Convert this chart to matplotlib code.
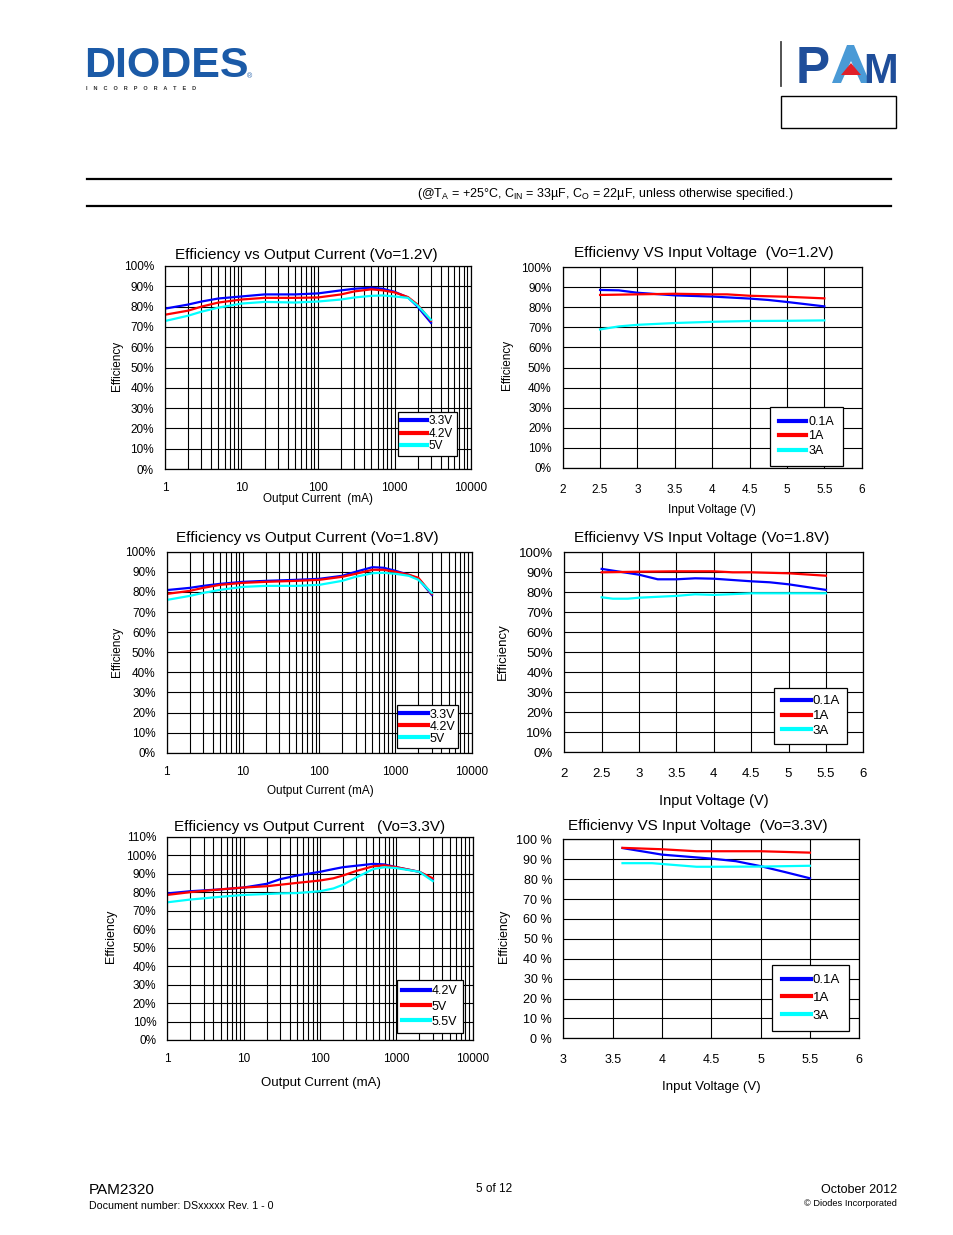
import matplotlib
matplotlib.use("Agg")
import matplotlib.pyplot as plt
from matplotlib.ticker import LogLocator, NullFormatter
from matplotlib.patches import Polygon, Rectangle
from matplotlib.lines import Line2D

plt.rcParams['font.family'] = ['Liberation Sans', 'DejaVu Sans']
plt.rcParams['mathtext.fontset'] = 'custom'
plt.rcParams['mathtext.rm'] = 'Liberation Sans'

W, H = 954, 1235

# ---- data (efficiency in %) ----
iout = [1, 2, 3, 5, 10, 20, 50, 100, 200, 300, 500, 700, 1000, 1500, 2000, 3000]
eff12_v33 = [79, 81, 82.5, 84, 85, 86, 86, 86.5, 88, 88.8, 89.3, 88.8, 87.3, 84.5, 80, 72]
eff12_v42 = [76, 78, 80, 82, 83.5, 84.3, 84.3, 84.5, 86, 87.5, 88.5, 88, 87, 84.7, 81, 73]
eff12_v50 = [72.9, 75.5, 77.5, 79.5, 81.5, 82.3, 82, 82.5, 83.5, 84.5, 85.3, 85.5, 85, 84.3, 80.5, 73.5]

eff18_v33 = [80.9, 82, 83, 84, 85, 85.5, 86, 86.5, 88, 90, 92.3, 92, 90.5, 88.5, 86.5, 78.5]
eff18_v42 = [79, 80.5, 82, 83.5, 84.5, 85, 85.5, 86, 87.5, 89, 91, 91, 90, 88.5, 87, 79]
eff18_v50 = [76, 78, 79.5, 81, 82.5, 83, 83, 83.5, 85.5, 87.5, 89.3, 89.5, 89, 88, 86, 79.5]

iout33 = [1, 2, 5, 10, 20, 30, 50, 100, 150, 200, 300, 500, 700, 1000, 2000, 3000]
eff33_v42 = [79.3, 80.5, 81.5, 82.5, 84.5, 87, 89, 91, 92.5, 93.5, 94.3, 95.3, 95, 93.5, 91, 87]
eff33_v50 = [78.5, 80, 81.5, 82.5, 83.2, 84, 85, 86.3, 87.5, 89, 91.5, 94, 94.5, 93.5, 91, 87.5]
eff33_v55 = [74.5, 76, 77.5, 78.5, 79, 79.3, 79.5, 80.5, 82, 84, 88, 92.5, 93.5, 93, 91, 86]

vin12_a01 = [2.5, 2.75, 3.0, 3.5, 4.0, 4.5, 4.75, 5.0, 5.5]
eff12_a01 = [88.7, 88.5, 87.3, 86, 85.4, 84.4, 83.7, 82.7, 80.5]
vin12_a1 = [2.5, 3.0, 3.5, 4.0, 4.2, 4.5, 5.0, 5.5]
eff12_a1 = [86.2, 86.5, 86.8, 86.5, 86.5, 85.8, 85.3, 84.5]
vin12_a3 = [2.5, 2.75, 3.0, 3.5, 4.0, 4.5, 5.0, 5.5]
eff12_a3 = [69, 70.5, 71.3, 72.2, 72.8, 73.2, 73.3, 73.5]

vin18_a01 = [2.5, 3.0, 3.25, 3.5, 3.75, 4.0, 4.5, 4.75, 5.0, 5.5]
eff18_a01 = [91.7, 88.8, 86.5, 86.5, 87, 86.8, 85.5, 85, 84, 81.2]
vin18_a1 = [2.5, 3.0, 3.5, 4.0, 4.25, 4.5, 5.0, 5.5]
eff18_a1 = [90, 90.3, 90.5, 90.5, 90, 90, 89.5, 88.3]
vin18_a3 = [2.5, 2.65, 2.85, 3.0, 3.5, 3.75, 4.0, 4.2, 4.5, 5.0, 5.5]
eff18_a3 = [77.5, 76.8, 76.8, 77.3, 78.2, 79, 78.7, 79, 79.5, 79.5, 79.5]

vin33_a01 = [3.6, 4.0, 4.5, 4.75, 5.0, 5.25, 5.5]
eff33_a01 = [95.6, 92.3, 90.3, 89, 86.5, 83.5, 80.4]
vin33_a1 = [3.6, 4.0, 4.35, 4.5, 5.0, 5.5]
eff33_a1 = [95.7, 95, 94, 94, 94, 93.3]
vin33_a3 = [3.6, 3.9, 4.35, 4.5, 5.0, 5.25, 5.5]
eff33_a3 = [88, 88, 86.2, 86.2, 86.3, 86.5, 86.7]

colors = ['#0000ff', '#ff0000', '#00ffff']

fig = plt.figure(figsize=(W / 100, H / 100), dpi=100)


def fx(x):
    return x / W


def fy(y):
    return 1 - y / H


def add_box(left, top, right, bottom):
    return fig.add_axes([fx(left), fy(bottom), (right - left) / W, (bottom - top) / H])


def common(ax, ymax, tick_fs, ypad, xpad, pct='%'):
    ax.set_ylim(0, ymax)
    ax.set_yticks(range(0, ymax + 1, 10))
    ax.set_yticklabels([f'{v}{pct}' for v in range(0, ymax + 1, 10)], fontsize=tick_fs)
    ax.tick_params(which='both', length=0)
    ax.tick_params(axis='y', pad=ypad)
    ax.tick_params(axis='x', pad=xpad, labelsize=tick_fs)
    ax.grid(which='both', color='black', lw=0.8)
    ax.set_axisbelow(True)
    for s in ax.spines.values():
        s.set_linewidth(0.9)


def legend(ax, labels, anchor, fs, spacing, bpad):
    leg = ax.legend(labels, loc='lower right', bbox_to_anchor=anchor, borderaxespad=0,
                    fontsize=fs, frameon=True, fancybox=False, edgecolor='black',
                    framealpha=1, handlelength=2.2, handletextpad=0.15,
                    labelspacing=spacing, borderpad=bpad)
    leg.get_frame().set_linewidth(0.9)
    for ln in leg.get_lines():
        ln.set_linewidth(3)


def log_chart(box, x, ys, labels, ymax, anchor, tick_fs=8.5, xpad=9.5,
              leg_fs=8.5, spacing=0.12, bpad=0.35):
    ax = add_box(*box)
    ax.set_xscale('log')
    ax.set_xlim(1, 10000)
    ax.xaxis.set_major_locator(LogLocator(base=10, numticks=10))
    ax.xaxis.set_minor_locator(LogLocator(base=10, subs=range(2, 10), numticks=100))
    ax.xaxis.set_minor_formatter(NullFormatter())
    ax.set_xticks([1, 10, 100, 1000, 10000])
    ax.set_xticklabels(['1', '10', '100', '1000', '10000'])
    common(ax, ymax, tick_fs, 8, xpad)
    for y, c in zip(ys, colors):
        ax.plot(x, y, color=c, lw=1.6)
    legend(ax, labels, anchor, leg_fs, spacing, bpad)
    return ax


def vin_chart(box, xs, ys, labels, xmin, anchor, tick_fs=8.5, xpad=11.5,
              leg_fs=8.5, spacing=0.4, bpad=0.7, pct='%'):
    ax = add_box(*box)
    ax.set_xlim(xmin, 6)
    ticks = [xmin + 0.5 * i for i in range(int((6 - xmin) / 0.5) + 1)]
    ax.set_xticks(ticks)
    ax.set_xticklabels([f'{t:g}' for t in ticks])
    common(ax, 100, tick_fs, 8, xpad, pct)
    for x, y, c in zip(xs, ys, colors):
        ax.plot(x, y, color=c, lw=1.6)
    legend(ax, labels, anchor, leg_fs, spacing, bpad)
    return ax


def ptext(x, y, s, **kw):
    kw.setdefault('ha', 'center')
    kw.setdefault('va', 'center')
    fig.text(fx(x), fy(y), s, **kw)


lab_iout = ['3.3V', '4.2V', '5V']
lab_amp = ['0.1A', '1A', '3A']

# ---- row 1 ----
log_chart((165, 266, 471, 469), iout, [eff12_v33, eff12_v42, eff12_v50], lab_iout, 100,
          (0.953, 0.064), spacing=0.05, bpad=0.3)
ptext(306.7, 254.5, 'Efficiency vs Output Current (Vo=1.2V)', fontsize=11)
ptext(318.3, 499.5, 'Output Current  (mA)', fontsize=8.5)
ptext(117, 366, 'Efficiency', fontsize=8.5, rotation=90)

vin_chart((562.7, 267.3, 861.7, 467.7), [vin12_a01, vin12_a1, vin12_a3],
          [eff12_a01, eff12_a1, eff12_a3], lab_amp, 2, (0.936, 0.01), leg_fs=9,
          spacing=0.2, bpad=0.7)
ptext(704, 253, 'Efficienvy VS Input Voltage  (Vo=1.2V)', fontsize=11)
ptext(711.7, 510.5, 'Input Voltage (V)', fontsize=8.5)
ptext(506.7, 365, 'Efficiency', fontsize=8.5, rotation=90)

# ---- row 2 ----
log_chart((166.7, 551.7, 471.7, 752.7), iout, [eff18_v33, eff18_v42, eff18_v50], lab_iout, 100,
          (0.956, 0.025), leg_fs=9, spacing=0.0, bpad=0.25)
ptext(307.5, 538.3, 'Efficiency vs Output Current (Vo=1.8V)', fontsize=11)
ptext(320, 790.7, 'Output Current (mA)', fontsize=8.5)
ptext(117, 651.7, 'Efficiency', fontsize=8.5, rotation=90)

vin_chart((564.3, 552.3, 863.3, 752.3), [vin18_a01, vin18_a1, vin18_a3],
          [eff18_a01, eff18_a1, eff18_a3], lab_amp, 2, (0.946, 0.04), tick_fs=9.5, leg_fs=9.5,
          spacing=0.2, bpad=0.55)
ptext(701.7, 538.3, 'Efficienvy VS Input Voltage (Vo=1.8V)', fontsize=11)
ptext(713.8, 801, 'Input Voltage (V)', fontsize=10.5)
ptext(503, 651.7, 'Efficiency', fontsize=9.5, rotation=90)

# ---- row 3 ----
log_chart((167.3, 836.7, 472.7, 1040), iout33, [eff33_v42, eff33_v50, eff33_v55],
          ['4.2V', '5V', '5.5V'], 110, (0.967, 0.036), leg_fs=9, spacing=0.25, bpad=0.4)
ptext(310, 826.7, 'Efficiency vs Output Current   (Vo=3.3V)', fontsize=11)
ptext(321.3, 1082.7, 'Output Current (mA)', fontsize=9.5)
ptext(110.7, 936.7, 'Efficiency', fontsize=9, rotation=90)

vin_chart((563.3, 839.3, 859.3, 1038.3), [vin33_a01, vin33_a1, vin33_a3],
          [eff33_a01, eff33_a1, eff33_a3], lab_amp, 3, (0.966, 0.038), tick_fs=9,
          leg_fs=9.5, spacing=0.4, bpad=0.7, pct=' %')
ptext(698.3, 826, 'Efficienvy VS Input Voltage  (Vo=3.3V)', fontsize=11)
ptext(711.7, 1086.7, 'Input Voltage (V)', fontsize=9.5)
ptext(504.3, 936.7, 'Efficiency', fontsize=9, rotation=90)

# ---- header ----
ptext(84, 77, 'DIODES', ha='left', va='baseline', fontsize=31, weight='bold', color='#1b5aa7')
ptext(86, 88.5, 'I    N    C    O    R    P    O    R    A    T    E    D', ha='left', fontsize=4,
      weight='bold', color='#333333')
ptext(250, 77, '®', fontsize=5, color='#1b5aa7')

fig.add_artist(Line2D([fx(781), fx(781)], [fy(42), fy(86)], color='#444444', lw=1.3))
ptext(796, 83, 'P', ha='left', va='baseline', fontsize=37, weight='bold', color='#1f4e9a')
ptext(863, 83, 'M', ha='left', va='baseline', fontsize=30, weight='bold', color='#1f4e9a')
fig.add_artist(Polygon([(fx(832), fy(83)), (fx(847), fy(45)), (fx(854), fy(45)), (fx(870), fy(83)),
                        (fx(861), fy(83)), (fx(851), fy(61)), (fx(841), fy(83))],
                       closed=True, facecolor='#4a9ad6', edgecolor='none', transform=fig.transFigure))
fig.add_artist(Polygon([(fx(851), fy(63)), (fx(861), fy(75)), (fx(841), fy(75))],
                       closed=True, facecolor='#e0202a', edgecolor='none', transform=fig.transFigure))
fig.add_artist(Rectangle((fx(781), fy(128)), 115 / W, 32 / H, fill=False, edgecolor='black',
                         lw=1, transform=fig.transFigure))

fig.add_artist(Line2D([fx(87), fx(891)], [fy(179), fy(179)], color='black', lw=1.6))
fig.add_artist(Line2D([fx(87), fx(891)], [fy(206), fy(206)], color='black', lw=1.6))
ptext(417, 194.5, r'(@T$_\mathregular{A}$ = +25°C, C$_\mathregular{IN}$ = 33µF, '
      r'C$_\mathregular{O}$ = 22µF, unless otherwise specified.)', ha='left', fontsize=9)

# ---- footer ----
ptext(89, 1190, 'PAM2320', ha='left', fontsize=11)
ptext(89, 1206, 'Document number: DSxxxxx Rev. 1 - 0', ha='left', fontsize=7.7)
ptext(494, 1189, '5 of 12', fontsize=8.5)
ptext(897, 1190, 'October 2012', ha='right', fontsize=9)
ptext(897, 1204, '© Diodes Incorporated', ha='right', fontsize=6.7)

fig.savefig('out.png', dpi=100)
